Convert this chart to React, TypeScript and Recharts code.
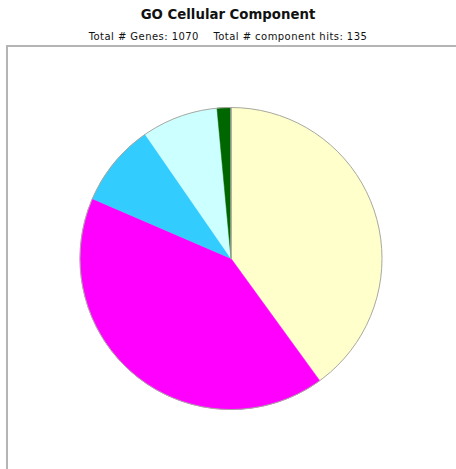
import React from "react";
import { PieChart, Pie, Cell } from "recharts";

const categories = ["Category A", "Category B", "Category C", "Category D", "Category E"];
const hits = [54, 56, 12, 11, 2];
const colors = ["#FFFFCC", "#FF00FF", "#33CCFF", "#CCFFFF", "#006600"];

const titleText = "GO Cellular Component";
const subtitleText = "Total # Genes: 1070    Total # component hits: 135";

const data = categories.map((name, i) => ({ name, value: hits[i] }));
const outline = [{ name: "all", value: 1 }];

export default function App() {
  return (
    <div style={{ position: "absolute", left: 0, top: 0, width: 456, height: 469, overflow: "hidden", background: "#fff", fontFamily: "'DejaVu Sans', sans-serif" }}>
      <div style={{ position: "absolute", left: 0, top: 7, width: 456, textAlign: "center", fontWeight: "bold", fontSize: 13.3, color: "#111" }}>
        {titleText}
      </div>
      <div style={{ position: "absolute", left: 0, top: 31, width: 456, textAlign: "center", fontSize: 10, color: "#111", whiteSpace: "pre", letterSpacing: 0.45 }}>
        {subtitleText}
      </div>
      <div style={{ position: "absolute", left: 6, top: 45, width: 470, height: 440, borderTop: "2px solid #b5b5b5", borderLeft: "2px solid #b5b5b5", boxSizing: "border-box" }} />
      <div style={{ position: "absolute", left: 0, top: 0 }}>
        <PieChart width={456} height={469} margin={{ top: 0, right: 0, bottom: 0, left: 0 }}>
          <Pie
            data={data}
            dataKey="value"
            nameKey="name"
            cx={231}
            cy={258.5}
            outerRadius={151}
            startAngle={90}
            endAngle={-270}
            isAnimationActive={false}
            label={false}
            labelLine={false}
          >
            {data.map((d, i) => (
              <Cell key={d.name} fill={colors[i]} stroke={colors[i]} strokeWidth={0.5} />
            ))}
          </Pie>
          <Pie
            data={outline}
            dataKey="value"
            cx={231}
            cy={258.5}
            outerRadius={151}
            startAngle={90}
            endAngle={-270}
            fill="none"
            stroke="#a8a8a0"
            strokeWidth={1}
            isAnimationActive={false}
            label={false}
            labelLine={false}
          />
        </PieChart>
      </div>
    </div>
  );
}
